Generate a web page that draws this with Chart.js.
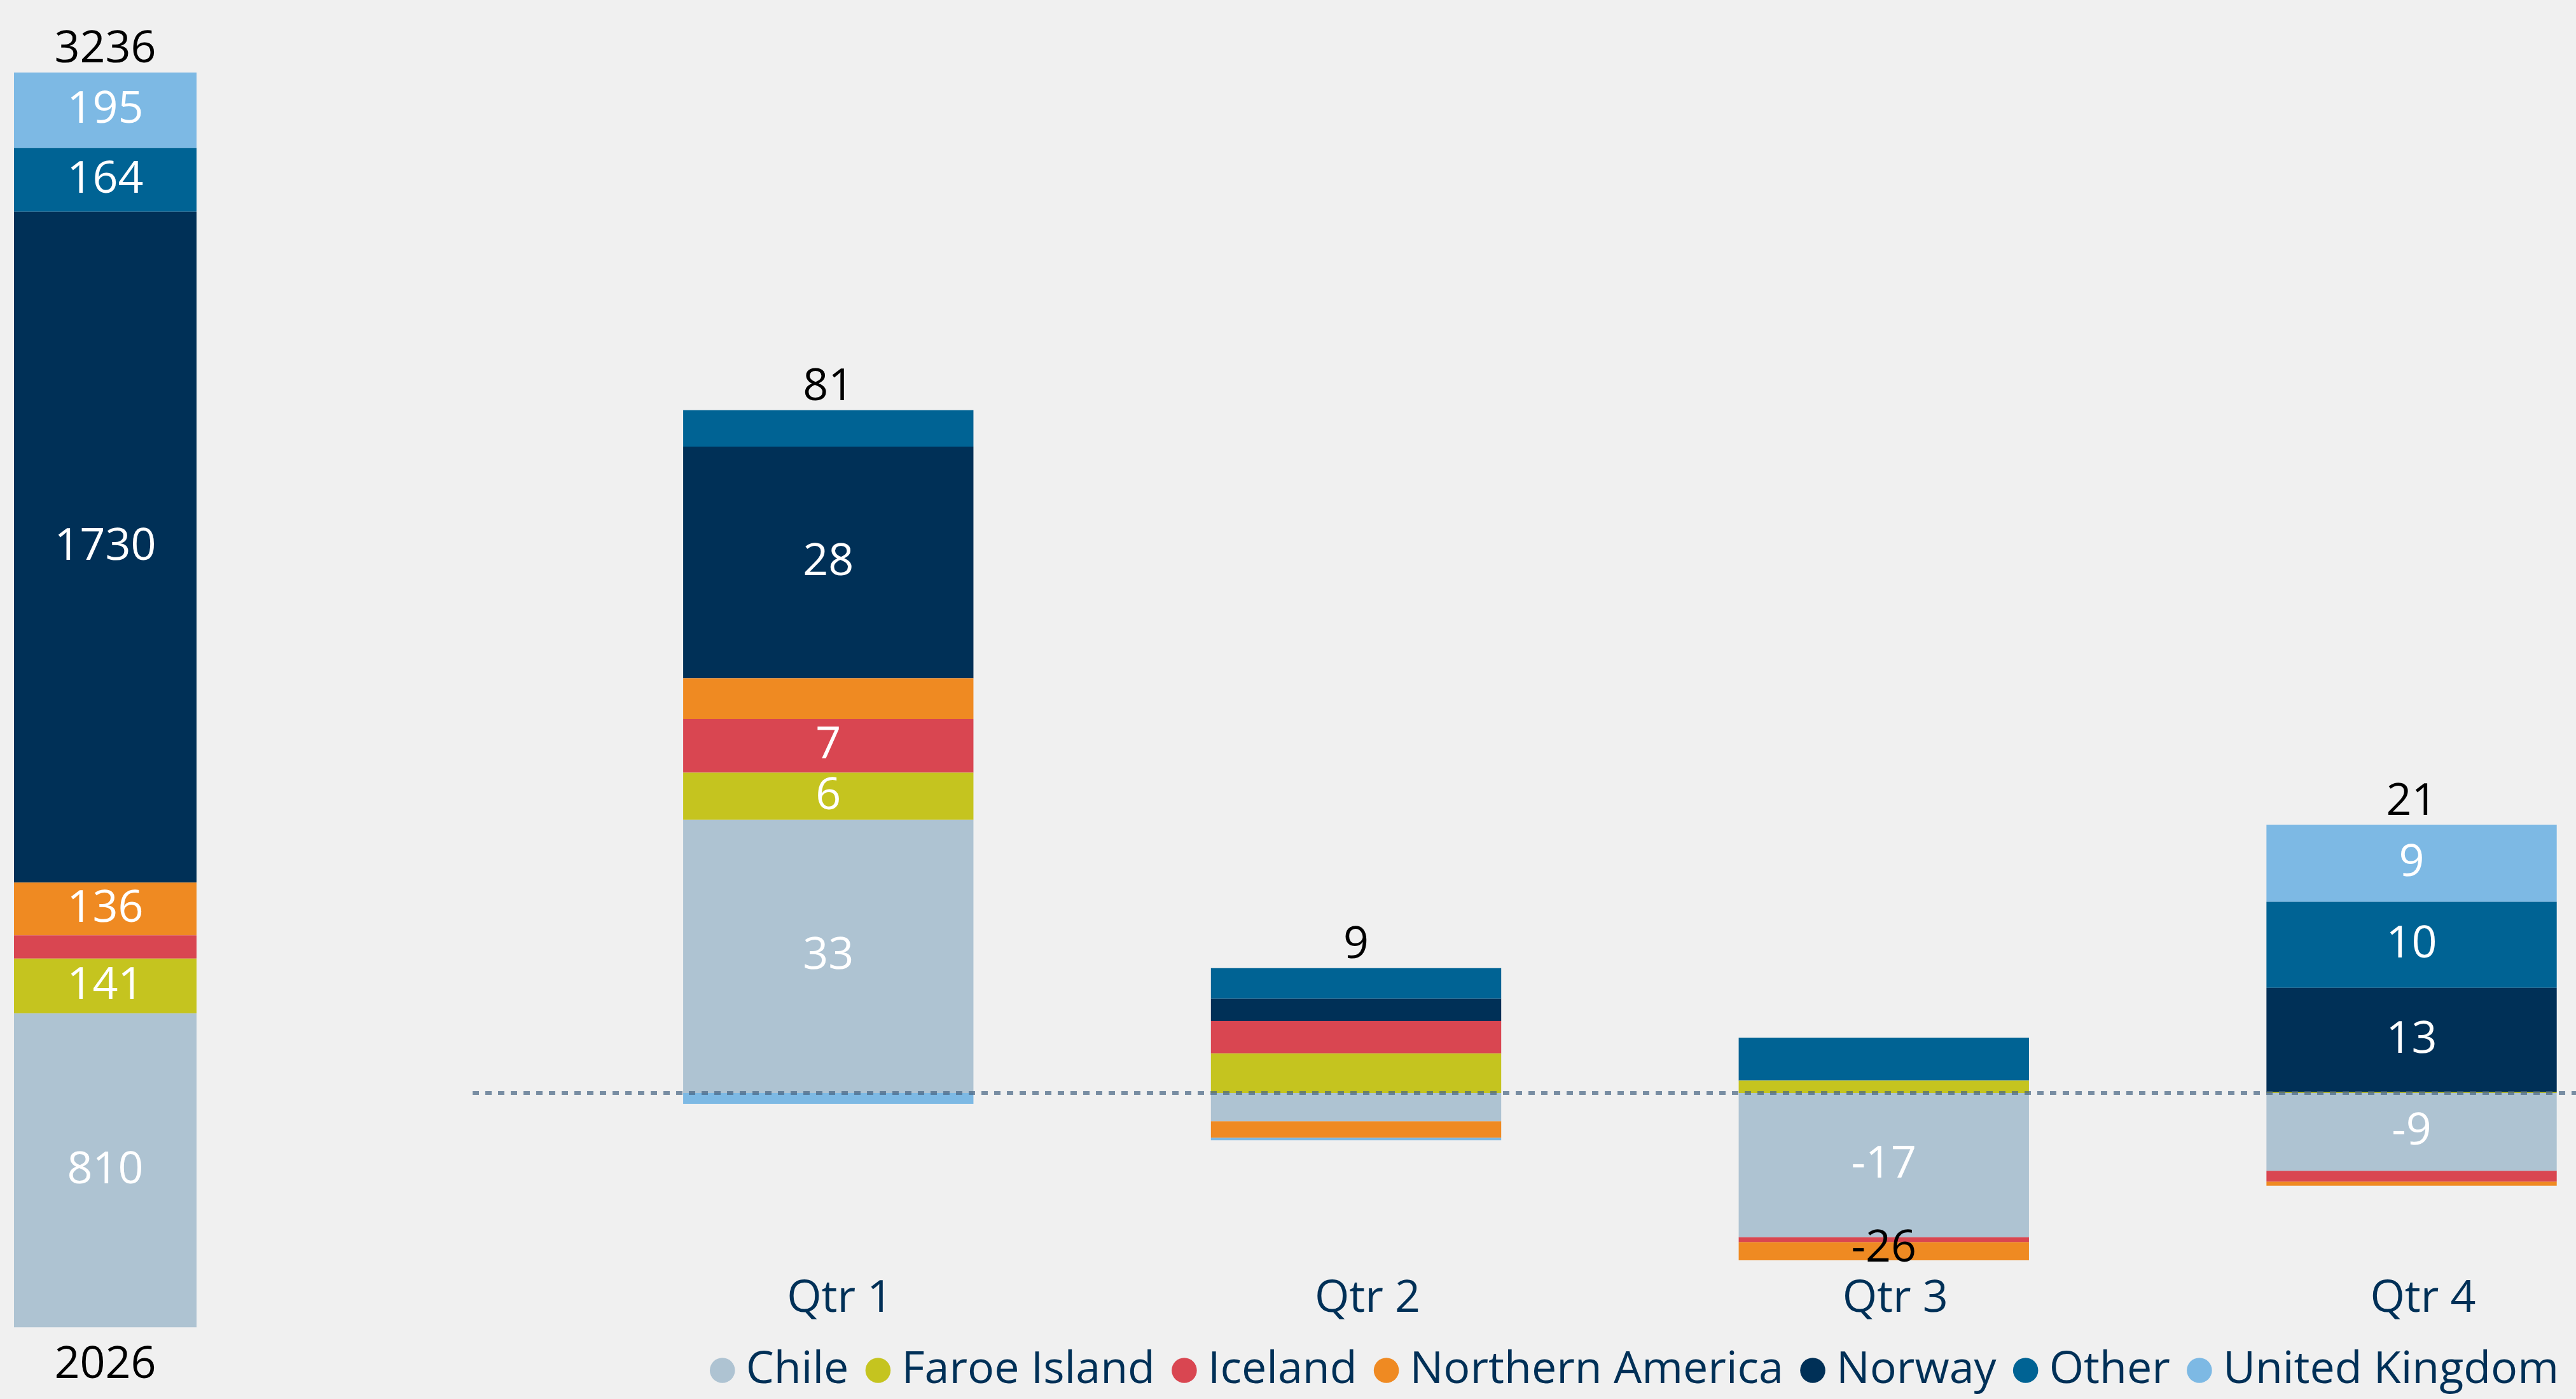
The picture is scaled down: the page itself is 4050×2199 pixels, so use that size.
<!DOCTYPE html>
<html>
<head>
<meta charset="utf-8">
<script src="https://cdn.jsdelivr.net/npm/chart.js@4.4.1/dist/chart.umd.min.js"></script>
<style>
  html, body { margin: 0; padding: 0; background: #f0f0f0; overflow: hidden; width: 4050px; height: 2199px; }
  #base { position: absolute; left: 0; top: 0; }
  #quarters { position: absolute; left: 743px; top: 0; }
</style>
</head>
<body>
<canvas id="base" width="331" height="2199"></canvas>
<canvas id="quarters" width="3324" height="2199"></canvas>
<script>
// series names and colours
var regions = ['Chile', 'Faroe Island', 'Iceland', 'Northern America', 'Norway', 'Other', 'United Kingdom'];
var colors = ['#aec3d2', '#c5c41f', '#d94651', '#ef8a22', '#003057', '#006394', '#7db9e4'];

// 2026 base, one value per region
var baseYear = ['2026'];
var base2026 = [810, 141, 60, 136, 1730, 164, 195];
var baseTotal = [3236];

// quarterly changes per region
var quarters = ['Qtr 1', 'Qtr 2', 'Qtr 3', 'Qtr 4'];
var chile = [33, -3.4, -17.4, -9.4];
var faroe = [5.7, 4.8, 1.5, 0.1];
var iceland = [6.5, 3.9, -0.6, -1.3];
var northAmerica = [4.9, -2.0, -2.2, -0.5];
var norway = [28, 2.7, 0, 12.6];
var other = [4.4, 3.7, 5.2, 10.4];
var uk = [-1.3, -0.3, 0, 9.3];
var quarterTotals = [81, 9, -26, 21];

Chart.defaults.font.family = '"Open Sans", sans-serif';
Chart.defaults.font.size = 70;

// segment values (white), totals (black) and the dotted zero line
var valueLabels = {
    id: 'valueLabels',
    afterDatasetsDraw: function (chart, args, opts) {
        var ctx = chart.ctx;
        ctx.save();
        if (opts.zeroLine) {
            var y0 = chart.scales.y.getPixelForValue(0);
            ctx.strokeStyle = 'rgba(70,100,130,0.7)';
            ctx.lineWidth = 6;
            ctx.setLineDash([10, 10]);
            ctx.beginPath();
            ctx.moveTo(0, y0);
            ctx.lineTo(chart.width, y0);
            ctx.stroke();
            ctx.setLineDash([]);
        }
        ctx.font = '70px "Open Sans"';
        ctx.textAlign = 'center';
        var n = chart.data.datasets[0].data.length;
        for (var i = 0; i < n; i++) {
            var top = null, bottom = null, x = null;
            chart.data.datasets.forEach(function (ds, d) {
                var el = chart.getDatasetMeta(d).data[i];
                var v = ds.data[i];
                x = el.x;
                if (v > 0) top = top === null ? el.y : Math.min(top, el.y);
                if (v < 0) bottom = bottom === null ? el.y : Math.max(bottom, el.y);
                if (Math.abs(el.base - el.y) >= 70) {
                    ctx.fillStyle = '#ffffff';
                    ctx.textBaseline = 'middle';
                    ctx.fillText(String(Math.round(v)), el.x, (el.y + el.base) / 2);
                }
            });
            var total = opts.totals[i];
            ctx.fillStyle = '#000000';
            ctx.textBaseline = 'alphabetic';
            if (total >= 0) {
                ctx.fillText(String(total), x, top - 16);
            } else {
                ctx.fillText(String(total), x, bottom + 2);
            }
        }
        ctx.restore();
    }
};

new Chart(document.getElementById('base'), {
    type: 'bar',
    data: {
        labels: baseYear,
        datasets: regions.map(function (r, k) {
            return {
                label: r,
                data: [base2026[k]],
                backgroundColor: colors[k],
                borderWidth: 0,
                barPercentage: 0.867,
                categoryPercentage: 1
            };
        })
    },
    options: {
        responsive: false,
        animation: false,
        layout: { padding: { top: 114, bottom: -7, left: 0, right: 0 } },
        scales: {
            x: {
                stacked: true,
                grid: { display: false, drawTicks: false },
                border: { display: false },
                ticks: { color: '#000000', padding: 37, font: { size: 70, lineHeight: 0.65 } }
            },
            y: { stacked: true, display: false, min: 0, max: baseTotal[0] }
        },
        plugins: {
            legend: { display: false },
            tooltip: { enabled: false },
            valueLabels: { totals: baseTotal }
        }
    },
    plugins: [valueLabels]
});

var quarterSeries = [chile, faroe, iceland, northAmerica, norway, other, uk];

new Chart(document.getElementById('quarters'), {
    type: 'bar',
    data: {
        labels: quarters.map(function (q, i) { return i + 1; }),
        datasets: quarterSeries.map(function (values, k) {
            return {
                label: regions[k],
                data: values,
                backgroundColor: colors[k],
                borderWidth: 0,
                barPercentage: 0.55,
                categoryPercentage: 1
            };
        })
    },
    options: {
        responsive: false,
        animation: false,
        layout: { padding: { top: 287, bottom: 0, left: 0, right: 0 } },
        scales: {
            x: {
                type: 'linear',
                offset: false,
                stacked: true,
                min: 0.326,
                max: 4.332,
                grid: { display: false, drawTicks: false, offset: false },
                border: { display: false },
                afterBuildTicks: function (scale) {
                    scale.ticks = quarters.map(function (q, i) { return { value: i + 1 }; });
                },
                ticks: {
                    color: '#003057',
                    padding: 10,
                    labelOffset: 18,
                    font: { size: 70, lineHeight: 0.65 },
                    callback: function (v) { return quarters[v - 1]; }
                }
            },
            y: { stacked: true, display: false, min: -22.4, max: 110 }
        },
        plugins: {
            legend: {
                position: 'bottom',
                align: 'end',
                labels: {
                    color: '#003057',
                    usePointStyle: true,
                    pointStyle: 'circle',
                    boxWidth: 4,
                    boxHeight: 28,
                    padding: 44,
                    font: { size: 70 }
                }
            },
            tooltip: { enabled: false },
            valueLabels: { totals: quarterTotals, zeroLine: true }
        }
    },
    plugins: [valueLabels]
});
</script>
</body>
</html>
